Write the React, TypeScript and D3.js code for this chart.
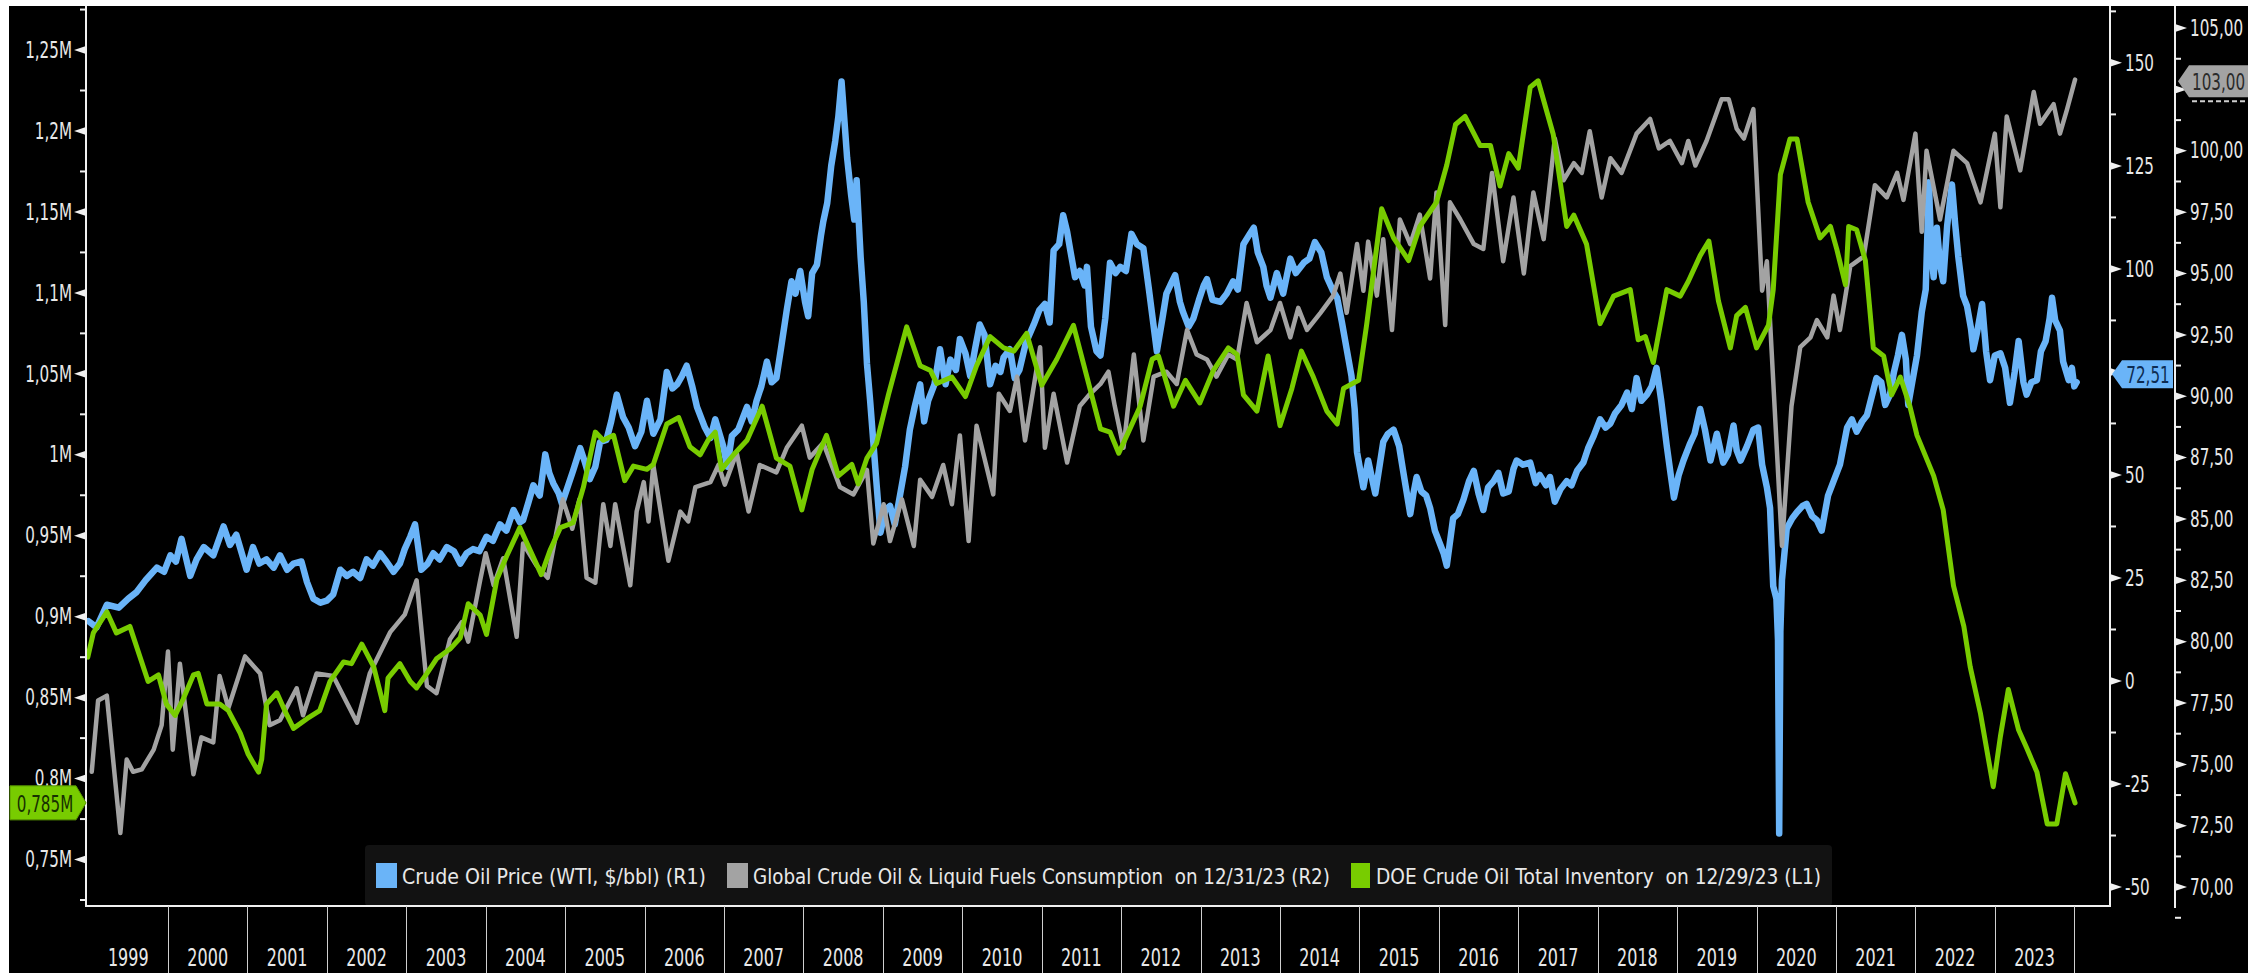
import React, { useLayoutEffect, useRef, useState } from "react";
import * as d3 from "d3";

// ---------- DATA ----------
// Crude Oil Price (WTI, $/bbl) — right axis 1 (decimal year, value)
const wti: [number, number][] = [
[1999.00,14.5],[1999.10,13.0],[1999.23,18.5],[1999.38,17.8],[1999.50,20.0],[1999.60,21.5],[1999.72,24.5],[1999.86,27.5],[1999.95,26.5],[2000.03,30.5],[2000.10,29.0],[2000.17,34.5],[2000.28,25.5],[2000.36,29.5],[2000.45,32.5],[2000.57,30.5],[2000.70,37.5],[2000.78,33.0],[2000.86,35.5],[2000.99,27.0],[2001.07,32.5],[2001.15,28.5],[2001.24,29.5],[2001.33,27.5],[2001.41,30.5],[2001.50,27.0],[2001.58,28.5],[2001.68,29.0],[2001.75,24.0],[2001.83,20.0],[2001.92,19.0],[2002.00,19.5],[2002.08,21.0],[2002.17,27.0],[2002.25,25.5],[2002.33,26.5],[2002.42,25.0],[2002.50,29.5],[2002.58,28.0],[2002.67,31.0],[2002.75,29.0],[2002.84,26.5],[2002.92,28.5],[2002.98,32.0],[2003.05,35.0],[2003.11,38.0],[2003.19,27.0],[2003.27,28.5],[2003.34,31.0],[2003.42,29.5],[2003.51,32.5],[2003.60,31.5],[2003.68,28.5],[2003.76,31.0],[2003.84,32.0],[2003.92,31.5],[2004.01,35.0],[2004.09,34.0],[2004.18,38.0],[2004.26,36.5],[2004.35,41.5],[2004.43,38.5],[2004.47,39.0],[2004.54,43.5],[2004.60,47.5],[2004.68,45.0],[2004.75,55.0],[2004.80,50.5],[2004.85,48.0],[2004.92,45.5],[2004.96,43.0],[2005.03,47.0],[2005.10,51.0],[2005.19,56.5],[2005.25,53.0],[2005.31,49.0],[2005.38,52.0],[2005.44,58.0],[2005.52,58.5],[2005.58,63.0],[2005.65,69.5],[2005.73,64.0],[2005.80,61.5],[2005.88,57.0],[2005.96,60.5],[2006.03,68.0],[2006.11,60.0],[2006.20,63.5],[2006.28,75.0],[2006.35,71.0],[2006.41,72.0],[2006.47,74.0],[2006.53,76.5],[2006.60,71.5],[2006.66,66.5],[2006.76,61.5],[2006.83,59.0],[2006.89,63.5],[2006.99,57.0],[2007.04,52.0],[2007.10,59.5],[2007.18,61.0],[2007.29,66.5],[2007.35,63.0],[2007.41,68.0],[2007.47,71.5],[2007.54,77.5],[2007.60,72.5],[2007.66,73.5],[2007.72,81.0],[2007.79,90.0],[2007.85,97.0],[2007.90,94.0],[2007.96,99.5],[2008.02,92.0],[2008.06,88.5],[2008.11,99.0],[2008.17,101.0],[2008.22,108.0],[2008.25,111.5],[2008.30,116.0],[2008.35,125.0],[2008.40,131.0],[2008.44,137.0],[2008.48,145.5],[2008.52,135.0],[2008.55,127.0],[2008.60,118.0],[2008.64,112.0],[2008.67,121.5],[2008.72,103.0],[2008.76,92.0],[2008.80,77.0],[2008.84,68.0],[2008.88,58.0],[2008.92,48.0],[2008.97,36.0],[2009.03,41.5],[2009.09,42.5],[2009.15,38.0],[2009.22,45.5],[2009.28,52.0],[2009.34,61.0],[2009.40,66.5],[2009.47,72.0],[2009.52,63.0],[2009.57,68.0],[2009.65,72.0],[2009.72,80.5],[2009.79,72.0],[2009.85,78.0],[2009.92,75.5],[2009.97,83.0],[2010.04,79.5],[2010.10,74.0],[2010.16,80.5],[2010.22,86.5],[2010.28,84.0],[2010.35,72.0],[2010.42,76.5],[2010.48,75.0],[2010.52,78.5],[2010.60,80.5],[2010.66,73.5],[2010.72,75.5],[2010.80,82.0],[2010.90,86.5],[2010.97,90.0],[2011.04,91.5],[2011.10,87.0],[2011.15,104.5],[2011.22,106.0],[2011.27,113.0],[2011.32,109.0],[2011.36,104.5],[2011.42,98.0],[2011.48,99.5],[2011.54,96.0],[2011.57,100.5],[2011.62,86.0],[2011.69,80.0],[2011.74,79.0],[2011.80,88.0],[2011.86,101.5],[2011.93,99.0],[2011.99,100.5],[2012.06,99.5],[2012.13,108.5],[2012.20,106.0],[2012.28,105.0],[2012.35,95.0],[2012.45,80.0],[2012.52,88.0],[2012.57,94.0],[2012.63,96.5],[2012.68,98.5],[2012.74,92.0],[2012.78,89.5],[2012.85,86.0],[2012.91,88.0],[2012.98,92.5],[2013.04,96.0],[2013.08,97.5],[2013.15,92.5],[2013.25,92.0],[2013.33,94.0],[2013.41,97.0],[2013.47,95.0],[2013.54,106.0],[2013.62,108.5],[2013.67,110.0],[2013.72,104.0],[2013.79,100.5],[2013.83,96.0],[2013.88,93.0],[2013.96,99.0],[2014.04,94.0],[2014.13,102.5],[2014.20,99.0],[2014.30,101.5],[2014.37,102.5],[2014.44,106.5],[2014.52,104.0],[2014.59,98.0],[2014.66,95.0],[2014.72,93.0],[2014.78,87.0],[2014.84,80.5],[2014.90,74.0],[2014.94,66.0],[2014.97,55.5],[2015.05,47.0],[2015.11,53.5],[2015.20,45.5],[2015.30,58.0],[2015.36,60.0],[2015.43,61.0],[2015.50,57.0],[2015.55,51.0],[2015.64,40.5],[2015.68,45.5],[2015.72,49.5],[2015.78,46.0],[2015.84,45.0],[2015.89,42.0],[2015.95,36.5],[2016.02,33.0],[2016.06,31.0],[2016.10,28.0],[2016.18,39.5],[2016.24,40.5],[2016.31,44.0],[2016.38,48.5],[2016.44,51.0],[2016.50,45.5],[2016.56,41.5],[2016.62,47.0],[2016.69,48.5],[2016.75,50.5],[2016.81,45.5],[2016.88,46.0],[2016.94,51.5],[2016.98,53.5],[2017.06,52.5],[2017.15,53.0],[2017.22,48.0],[2017.27,50.0],[2017.35,47.5],[2017.40,49.5],[2017.46,43.5],[2017.53,46.5],[2017.61,48.5],[2017.67,47.5],[2017.74,51.0],[2017.82,53.0],[2017.88,56.5],[2017.95,59.5],[2018.03,63.5],[2018.10,61.5],[2018.16,62.5],[2018.22,65.0],[2018.30,67.0],[2018.37,70.0],[2018.43,66.0],[2018.49,73.5],[2018.55,68.0],[2018.62,69.5],[2018.68,71.5],[2018.74,76.0],[2018.80,68.0],[2018.87,57.0],[2018.92,50.0],[2018.96,44.5],[2019.02,50.0],[2019.08,53.5],[2019.16,57.5],[2019.22,60.0],[2019.29,66.0],[2019.35,61.0],[2019.42,53.5],[2019.50,60.0],[2019.58,53.0],[2019.64,55.0],[2019.71,62.0],[2019.75,56.0],[2019.80,53.5],[2019.88,57.0],[2019.96,61.0],[2020.02,61.5],[2020.07,52.5],[2020.13,47.0],[2020.17,42.0],[2020.21,23.0],[2020.25,20.0],[2020.27,10.0],[2020.285,-37.0],[2020.30,12.0],[2020.32,24.5],[2020.38,37.0],[2020.45,39.5],[2020.51,41.0],[2020.58,42.5],[2020.63,43.0],[2020.70,40.0],[2020.76,39.0],[2020.82,36.5],[2020.90,45.0],[2020.97,48.5],[2021.05,52.5],[2021.14,61.5],[2021.20,63.5],[2021.26,60.5],[2021.33,63.0],[2021.39,64.5],[2021.45,69.0],[2021.51,73.5],[2021.57,72.5],[2021.62,67.0],[2021.68,69.5],[2021.73,75.0],[2021.78,79.0],[2021.83,84.0],[2021.88,78.0],[2021.91,67.0],[2021.96,72.5],[2022.02,79.0],[2022.08,89.5],[2022.13,95.0],[2022.17,121.0],[2022.20,104.0],[2022.23,98.0],[2022.27,110.0],[2022.31,101.0],[2022.35,97.0],[2022.40,110.5],[2022.46,120.5],[2022.50,111.0],[2022.54,103.0],[2022.60,93.5],[2022.65,91.0],[2022.70,85.5],[2022.73,80.5],[2022.78,85.0],[2022.84,91.5],[2022.89,80.0],[2022.94,73.0],[2023.00,79.0],[2023.07,79.5],[2023.13,76.0],[2023.19,67.5],[2023.25,75.0],[2023.30,82.5],[2023.36,72.5],[2023.40,69.5],[2023.46,72.5],[2023.53,73.0],[2023.58,80.0],[2023.64,82.5],[2023.69,88.0],[2023.72,93.0],[2023.76,87.5],[2023.82,85.0],[2023.86,77.5],[2023.93,73.0],[2023.97,76.0],[2024.00,71.5],[2024.03,72.5]
];

// Global Crude Oil & Liquid Fuels Consumption (mb/d) — right axis 2
const consumption: [number, number][] = [
[1999.04,74.7],[1999.12,77.6],[1999.23,77.8],[1999.40,72.2],[1999.48,75.2],[1999.56,74.7],[1999.67,74.8],[1999.82,75.6],[1999.92,76.6],[2000.00,79.6],[2000.06,75.6],[2000.15,79.1],[2000.32,74.6],[2000.42,76.1],[2000.57,75.9],[2000.65,78.6],[2000.76,77.3],[2000.97,79.4],[2001.16,78.7],[2001.28,76.6],[2001.41,76.8],[2001.62,78.1],[2001.70,77.0],[2001.87,78.7],[2002.08,78.6],[2002.38,76.7],[2002.54,78.7],[2002.80,80.4],[2002.98,81.1],[2003.13,82.5],[2003.26,78.2],[2003.38,77.9],[2003.55,80.1],[2003.70,80.8],[2003.78,80.0],[2003.93,82.5],[2004.00,83.6],[2004.10,82.3],[2004.22,83.4],[2004.39,80.2],[2004.47,84.0],[2004.64,83.1],[2004.78,82.6],[2004.97,85.8],[2005.09,84.6],[2005.18,85.8],[2005.27,82.6],[2005.38,82.4],[2005.48,85.6],[2005.57,83.9],[2005.63,85.6],[2005.82,82.3],[2005.90,85.3],[2005.99,86.5],[2006.05,84.9],[2006.11,87.2],[2006.30,83.3],[2006.45,85.3],[2006.55,84.9],[2006.64,86.3],[2006.83,86.5],[2006.93,87.2],[2007.01,86.4],[2007.16,87.7],[2007.31,85.3],[2007.45,87.2],[2007.66,86.9],[2007.79,87.9],[2007.98,88.8],[2008.08,87.5],[2008.25,88.1],[2008.46,86.3],[2008.63,86.0],[2008.80,87.0],[2008.88,84.0],[2009.01,85.6],[2009.09,84.1],[2009.24,85.8],[2009.39,83.9],[2009.47,86.6],[2009.62,85.9],[2009.76,87.2],[2009.87,85.6],[2009.97,88.4],[2010.08,84.1],[2010.18,88.8],[2010.39,86.0],[2010.46,90.1],[2010.60,89.4],[2010.69,90.8],[2010.79,88.2],[2010.98,92.0],[2011.04,87.9],[2011.15,90.1],[2011.32,87.3],[2011.48,89.6],[2011.61,90.1],[2011.74,90.5],[2011.84,91.0],[2011.92,89.6],[2012.03,87.9],[2012.16,91.7],[2012.28,88.2],[2012.41,90.8],[2012.57,91.0],[2012.70,90.5],[2012.83,92.7],[2012.95,91.7],[2013.08,91.5],[2013.20,90.8],[2013.35,91.7],[2013.46,91.5],[2013.58,93.8],[2013.71,92.2],[2013.88,92.7],[2014.00,93.8],[2014.13,92.4],[2014.23,93.6],[2014.34,92.7],[2014.51,93.4],[2014.67,94.1],[2014.76,95.0],[2014.84,93.4],[2014.97,96.2],[2015.05,94.3],[2015.11,96.3],[2015.22,94.1],[2015.30,96.4],[2015.41,92.7],[2015.51,97.2],[2015.64,96.2],[2015.76,97.4],[2015.89,94.8],[2015.97,98.3],[2016.08,92.9],[2016.14,97.9],[2016.27,97.2],[2016.44,96.2],[2016.56,96.0],[2016.67,99.1],[2016.81,95.5],[2016.94,98.1],[2017.07,95.0],[2017.19,98.3],[2017.32,96.4],[2017.46,100.5],[2017.57,98.8],[2017.70,99.5],[2017.80,99.1],[2017.90,100.8],[2018.05,98.1],[2018.16,99.7],[2018.30,99.1],[2018.49,100.7],[2018.66,101.3],[2018.77,100.1],[2018.91,100.4],[2019.06,99.5],[2019.14,100.4],[2019.23,99.4],[2019.37,100.4],[2019.56,102.1],[2019.65,102.1],[2019.75,100.9],[2019.84,100.5],[2019.96,101.7],[2020.07,94.3],[2020.13,95.5],[2020.32,83.9],[2020.44,89.6],[2020.55,92.0],[2020.68,92.4],[2020.76,93.1],[2020.89,92.4],[2020.97,94.1],[2021.05,92.7],[2021.18,95.3],[2021.35,95.7],[2021.49,98.6],[2021.64,98.1],[2021.77,99.1],[2021.85,98.0],[2022.00,100.7],[2022.08,96.7],[2022.14,100.0],[2022.31,97.2],[2022.48,100.0],[2022.65,99.5],[2022.82,97.9],[2023.00,100.7],[2023.07,97.7],[2023.15,101.4],[2023.32,99.2],[2023.49,102.4],[2023.57,101.1],[2023.74,101.9],[2023.82,100.7],[2023.91,101.7],[2024.01,102.9]
];

// DOE Crude Oil Total Inventory (M = million thousand bbl) — left axis
const inventory: [number, number][] = [
[1998.99,0.875],[1999.06,0.890],[1999.23,0.903],[1999.35,0.890],[1999.52,0.894],[1999.75,0.860],[1999.88,0.864],[1999.98,0.846],[2000.09,0.839],[2000.19,0.849],[2000.32,0.864],[2000.38,0.865],[2000.49,0.846],[2000.65,0.846],[2000.76,0.842],[2000.91,0.828],[2001.01,0.815],[2001.14,0.804],[2001.18,0.812],[2001.24,0.846],[2001.37,0.853],[2001.47,0.842],[2001.58,0.831],[2001.75,0.837],[2001.91,0.842],[2002.04,0.860],[2002.21,0.872],[2002.31,0.871],[2002.44,0.883],[2002.59,0.869],[2002.73,0.842],[2002.77,0.862],[2002.92,0.871],[2003.05,0.860],[2003.13,0.856],[2003.26,0.865],[2003.38,0.874],[2003.55,0.880],[2003.68,0.887],[2003.78,0.908],[2003.93,0.901],[2004.01,0.889],[2004.14,0.923],[2004.26,0.937],[2004.43,0.955],[2004.56,0.941],[2004.70,0.926],[2004.81,0.941],[2004.94,0.955],[2005.10,0.958],[2005.23,0.980],[2005.38,1.014],[2005.48,1.009],[2005.61,1.012],[2005.75,0.984],[2005.86,0.993],[2006.03,0.991],[2006.11,0.994],[2006.28,1.019],[2006.43,1.023],[2006.57,1.005],[2006.70,1.000],[2006.80,1.009],[2006.89,1.014],[2006.97,0.991],[2007.12,1.000],[2007.29,1.009],[2007.48,1.030],[2007.66,0.998],[2007.83,0.993],[2007.98,0.966],[2008.11,0.991],[2008.29,1.012],[2008.44,0.987],[2008.61,0.994],[2008.69,0.982],[2008.80,0.998],[2008.92,1.007],[2009.07,1.037],[2009.30,1.079],[2009.47,1.055],[2009.60,1.052],[2009.68,1.044],[2009.87,1.048],[2010.04,1.036],[2010.18,1.055],[2010.35,1.073],[2010.52,1.066],[2010.65,1.064],[2010.81,1.075],[2011.00,1.043],[2011.19,1.059],[2011.40,1.080],[2011.57,1.048],[2011.74,1.016],[2011.86,1.014],[2011.97,1.001],[2012.11,1.016],[2012.24,1.030],[2012.39,1.059],[2012.47,1.061],[2012.55,1.048],[2012.66,1.030],[2012.81,1.046],[2012.99,1.032],[2013.16,1.052],[2013.35,1.066],[2013.46,1.062],[2013.54,1.037],[2013.71,1.027],[2013.85,1.061],[2014.00,1.018],[2014.15,1.041],[2014.27,1.064],[2014.42,1.048],[2014.59,1.027],[2014.72,1.019],[2014.80,1.041],[2014.99,1.046],[2015.09,1.080],[2015.28,1.152],[2015.43,1.134],[2015.62,1.120],[2015.76,1.141],[2015.97,1.156],[2016.10,1.179],[2016.21,1.204],[2016.33,1.209],[2016.52,1.191],[2016.65,1.191],[2016.77,1.166],[2016.88,1.186],[2017.00,1.177],[2017.15,1.227],[2017.25,1.231],[2017.44,1.198],[2017.61,1.141],[2017.70,1.148],[2017.86,1.130],[2018.03,1.081],[2018.20,1.098],[2018.41,1.102],[2018.51,1.071],[2018.60,1.073],[2018.70,1.057],[2018.87,1.102],[2019.04,1.098],[2019.14,1.107],[2019.29,1.123],[2019.40,1.132],[2019.52,1.095],[2019.67,1.066],[2019.75,1.086],[2019.86,1.091],[2020.00,1.066],[2020.15,1.080],[2020.21,1.102],[2020.30,1.173],[2020.42,1.195],[2020.51,1.195],[2020.65,1.156],[2020.80,1.134],[2020.93,1.141],[2021.01,1.127],[2021.12,1.105],[2021.16,1.141],[2021.26,1.139],[2021.37,1.120],[2021.47,1.066],[2021.60,1.061],[2021.70,1.037],[2021.81,1.048],[2021.93,1.030],[2022.02,1.012],[2022.23,0.987],[2022.35,0.966],[2022.48,0.919],[2022.61,0.894],[2022.69,0.869],[2022.82,0.840],[2022.98,0.795],[2023.07,0.826],[2023.17,0.855],[2023.30,0.830],[2023.40,0.819],[2023.53,0.804],[2023.66,0.772],[2023.78,0.772],[2023.89,0.803],[2024.01,0.785]
];

const years = d3.range(1999, 2024);
const leftTicks = [0.75, 0.8, 0.85, 0.9, 0.95, 1, 1.05, 1.1, 1.15, 1.2, 1.25];
const r1Ticks = [-50, -25, 0, 25, 50, 75, 100, 125, 150];
const r2Ticks = [70, 72.5, 75, 77.5, 80, 82.5, 85, 87.5, 90, 92.5, 95, 97.5, 100, 102.5, 105];
// tick labels hidden behind the last-value tags in the reference
const r1Hidden = [75];
const r2Hidden = [102.5];
const lastValues = { wti: 72.51, consumption: 103.0, inventory: 0.785 };
const lastLabels = { wti: "72,51", consumption: "103,00", inventory: "0,785M" };
const legendItems = [
  "Crude Oil Price (WTI, $/bbl) (R1)",
  "Global Crude Oil & Liquid Fuels Consumption  on 12/31/23 (R2)",
  "DOE Crude Oil Total Inventory  on 12/29/23 (L1)",
];

// ---------- LAYOUT ----------
const W = 2262, H = 973;
const PL = 86, PR = 2110, PT = 6, PB = 906;
const R2X = 2175;
const BLUE = "#6ab4f8", GRAY = "#a3a3a3", GREEN = "#78cc00";
const FONT = "'DejaVu Sans', Verdana, sans-serif";
const TXT = "#e8e8e8";

const x = d3.scaleLinear().domain([1998.955, 2024.45]).range([85, PR]);
const yL = d3.scaleLinear().domain([0.7213, 1.2772]).range([PB, PT]);
const yR1 = d3.scaleLinear().domain([-54.6, 163.8]).range([PB, PT]);
const yR2 = d3.scaleLinear().domain([69.23, 105.9]).range([PB, PT]);

const comma = (s: string) => s.replace(".", ",");
const fmtL = (v: number) => comma(String(+v.toFixed(2))) + "M";
const fmtR2 = (v: number) => comma(v.toFixed(2));

function T(props: { x: number; y: number; text: string; anchor?: string; size?: number; sx?: number; fill?: string }) {
  const { x: tx, y: ty, text, anchor = "start", size = 23, sx = 0.66, fill = TXT } = props;
  return (
    <text
      transform={`translate(${tx},${ty}) scale(${sx},1)`}
      textAnchor={anchor as any}
      dominantBaseline="central"
      fontSize={size}
      fontFamily={FONT}
      fill={fill}
    >
      {text}
    </text>
  );
}

const legend = [
  { sw: 376, swW: 21, tx: 402, tw: 304, color: BLUE },
  { sw: 727, swW: 21, tx: 753, tw: 577, color: GRAY },
  { sw: 1351, swW: 19, tx: 1376, tw: 445, color: GREEN },
];

export default function App() {
  const refs = useRef<(SVGTextElement | null)[]>([]);
  const [scales, setScales] = useState<number[]>([0.66, 0.66, 0.66]);

  useLayoutEffect(() => {
    const s = legend.map((l, i) => {
      const el = refs.current[i];
      if (!el) return 0.66;
      const len = el.getComputedTextLength();
      return len > 0 ? l.tw / len : 0.66;
    });
    setScales(s);
  }, []);

  const lineW = d3.line<[number, number]>().x(d => x(d[0])).y(d => yR1(d[1]));
  const lineC = d3.line<[number, number]>().x(d => x(d[0])).y(d => yR2(d[1]));
  const lineI = d3.line<[number, number]>().x(d => x(d[0])).y(d => yL(d[1]));

  const leftMinor = d3.range(0.725, 1.28, 0.05);
  const r1Minor = d3.range(-37.5, 163, 25);
  const r2Minor = d3.range(68.75, 106, 2.5);

  const yG = yL(lastValues.inventory);
  const yB = yR1(lastValues.wti) - 8;
  const yGr = yR2(lastValues.consumption) + 4;

  return (
    <svg width={W} height={H} style={{ position: "absolute", left: 0, top: 0, display: "block" }}>
      <rect x={0} y={0} width={W} height={H} fill="#fff" />
      <rect x={9} y={6} width={2239} height={H - 6} fill="#000" />
      <defs>
        <clipPath id="plot">
          <rect x={PL} y={PT} width={PR - PL} height={PB - PT} />
        </clipPath>
      </defs>

      {/* legend box */}
      <rect x={365} y={845} width={1467} height={61} rx={4} fill="#121212" />
      {legend.map((l, i) => (
        <g key={i}>
          <rect x={l.sw} y={863} width={l.swW} height={25} fill={l.color} />
          <text
            ref={el => { refs.current[i] = el; }}
            transform={`translate(${l.tx},884) scale(${scales[i]},1)`}
            fontSize={22}
            fontFamily={FONT}
            fill={TXT}
            style={{ whiteSpace: "pre" }}
          >
            {legendItems[i]}
          </text>
        </g>
      ))}

      {/* series */}
      <g clipPath="url(#plot)" fill="none" strokeLinejoin="round" strokeLinecap="round">
        <path d={lineW(wti) || ""} stroke={BLUE} strokeWidth={6.5} />
        <path d={lineC(consumption) || ""} stroke={GRAY} strokeWidth={4.5} />
        <path d={lineI(inventory) || ""} stroke={GREEN} strokeWidth={5} />
      </g>

      {/* axes lines */}
      <line x1={PL} y1={PT} x2={PL} y2={PB} stroke="#f0f0f0" strokeWidth={2} />
      <line x1={PL - 1} y1={PB} x2={PR + 1} y2={PB} stroke="#f0f0f0" strokeWidth={2} />
      <line x1={PR} y1={PT} x2={PR} y2={PB} stroke="#f0f0f0" strokeWidth={2} />
      <line x1={R2X} y1={PT} x2={R2X} y2={PB + 2} stroke="#f0f0f0" strokeWidth={2} />

      {/* x separators and year labels */}
      {years.slice(1).concat([2024]).map(yv => (
        <line key={"s" + yv} x1={Math.round(x(yv)) + 0.5} y1={PB} x2={Math.round(x(yv)) + 0.5} y2={H} stroke="#cfcfcf" strokeWidth={1} />
      ))}
      {years.map(yv => (
        <T key={"y" + yv} x={x(yv + 0.5)} y={958} text={String(yv)} anchor="middle" size={25} sx={0.64} />
      ))}

      {/* left axis ticks */}
      {leftMinor.map((v, i) => (
        <line key={"lm" + i} x1={PL - 6} x2={PL} y1={yL(v)} y2={yL(v)} stroke="#f0f0f0" strokeWidth={2} />
      ))}
      {leftTicks.map(v => (
        <g key={"l" + v}>
          <path d={`M${PL},${yL(v) - 4}L${PL},${yL(v) + 4}L${PL - 12},${yL(v)}Z`} fill="#f0f0f0" />
          <T x={72} y={yL(v)} text={fmtL(v)} anchor="end" />
        </g>
      ))}

      {/* R1 ticks */}
      {r1Minor.map((v, i) => (
        <line key={"r1m" + i} x1={PR} x2={PR + 6} y1={yR1(v)} y2={yR1(v)} stroke="#f0f0f0" strokeWidth={2} />
      ))}
      {r1Ticks.map(v => (
        <g key={"r1" + v}>
          <path d={`M${PR},${yR1(v) - 4}L${PR},${yR1(v) + 4}L${PR + 12},${yR1(v)}Z`} fill="#f0f0f0" />
          {r1Hidden.includes(v) ? null : <T x={2125} y={yR1(v)} text={String(v)} />}
        </g>
      ))}

      {/* R2 ticks */}
      {r2Minor.map((v, i) => (
        <line key={"r2m" + i} x1={R2X} x2={R2X + 6} y1={yR2(v)} y2={yR2(v)} stroke="#f0f0f0" strokeWidth={2} />
      ))}
      {r2Ticks.map(v => (
        <g key={"r2" + v}>
          <path d={`M${R2X},${yR2(v) - 4}L${R2X},${yR2(v) + 4}L${R2X + 12},${yR2(v)}Z`} fill="#f0f0f0" />
          {r2Hidden.includes(v) ? null : <T x={2190} y={yR2(v)} text={fmtR2(v)} />}
        </g>
      ))}

      {/* last value tags */}
      <path d={`M10,${yG - 17}L76,${yG - 17}L86,${yG}L76,${yG + 17}L10,${yG + 17}Z`} fill={GREEN} stroke="#5a9a00" strokeWidth={1} />
      <T x={45} y={yG + 1} text={lastLabels.inventory} anchor="middle" fill="#173000" size={23} />

      <path d={`M2112,${yB}L2122,${yB - 14}L2173,${yB - 14}L2173,${yB + 14}L2122,${yB + 14}Z`} fill={BLUE} />
      <T x={2148} y={yB + 1} text={lastLabels.wti} anchor="middle" fill="#0d2c52" size={23} />

      <path d={`M2178,${yGr}L2189,${yGr - 16}L2262,${yGr - 16}L2262,${yGr + 16}L2189,${yGr + 16}Z`} fill={GRAY} />
      <T x={2192} y={yGr + 1} text={lastLabels.consumption} fill="#2a2a2a" size={23} />
      <line x1={2192} x2={2246} y1={yGr + 20} y2={yGr + 20} stroke="#cfcfcf" strokeWidth={2} strokeDasharray="5,3" />

      {/* outer white margins */}
      <rect x={2248} y={0} width={W - 2248} height={H} fill="#fff" />
      <rect x={0} y={0} width={W} height={6} fill="#fff" />
      <rect x={0} y={0} width={9} height={H} fill="#fff" />
    </svg>
  );
}
